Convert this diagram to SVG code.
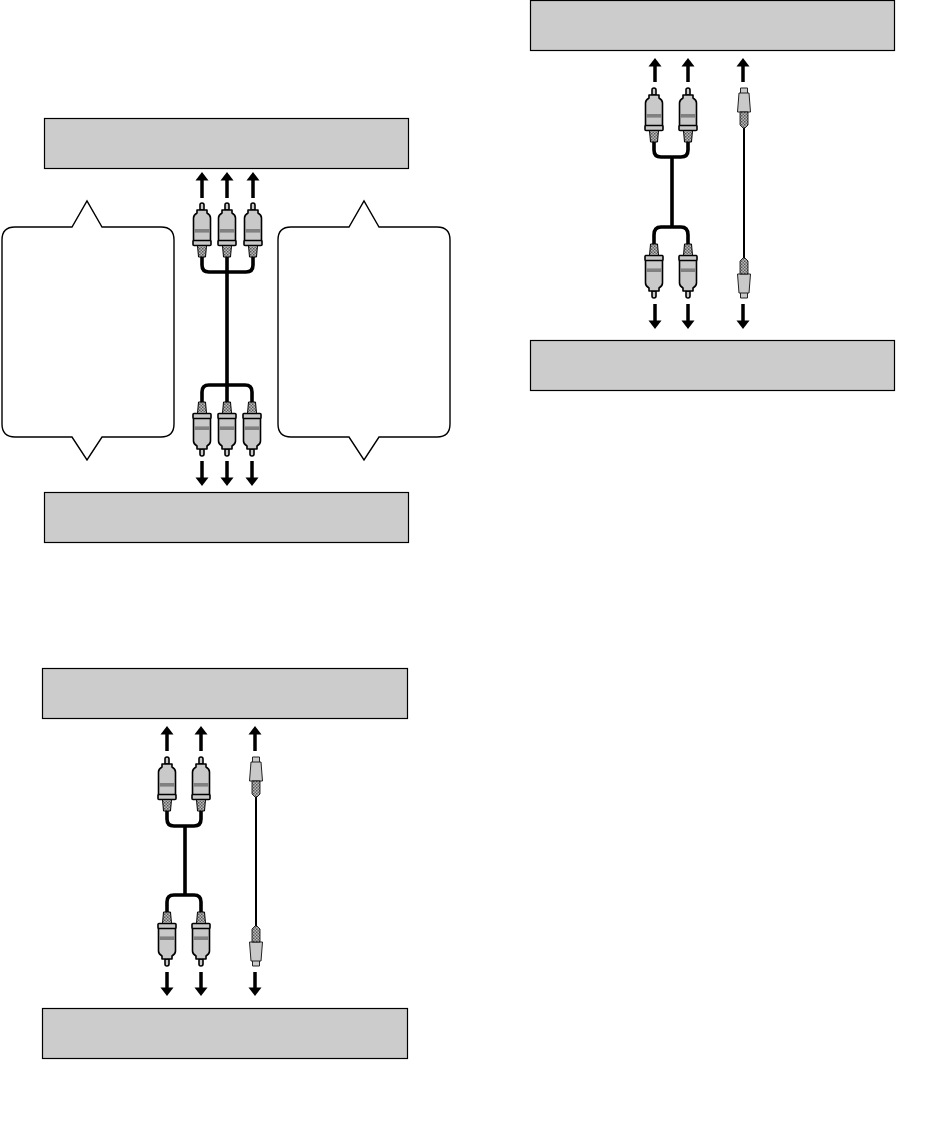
<svg xmlns="http://www.w3.org/2000/svg" width="941" height="1147" viewBox="0 0 941 1147">
<style>
.box{fill:#cccccc;stroke:#000;stroke-width:1.2}
.bubble{fill:#fff;stroke:#000;stroke-width:1.4;stroke-linejoin:miter}
.thick{fill:none;stroke:#000;stroke-width:3.6}
.thin{fill:none;stroke:#000;stroke-width:2}
.arrow{fill:none;stroke:#000;stroke-width:3.5;marker-end:url(#head)}
.g{fill:#c9c9c9;stroke:#000;stroke-width:1.6;stroke-linejoin:round}
.s{fill:#c9c9c9;stroke:#222;stroke-width:1;stroke-linejoin:round}
</style>
<defs>
<marker id="head" markerUnits="userSpaceOnUse" markerWidth="10" markerHeight="14" refX="0.500" refY="7" orient="auto" overflow="visible">
<path d="M0 0.500L8.500 7L0 13.500Z" fill="#000"/>
</marker>
<pattern id="chk" width="3" height="3" patternUnits="userSpaceOnUse"><rect width="3" height="3" fill="#bbb"/><rect width="1.5" height="1.5" fill="#555"/><rect x="1.5" y="1.5" width="1.5" height="1.5" fill="#666"/></pattern>
<g id="rca">
<path class="g" d="M-2 7V2Q-2 0 0 0Q2 0 2 2V7Z"/>
<path class="g" d="M-5 7H5V10Q8.500 12 8.500 15V38H-8.500V15Q-8.500 12 -5 10Z"/>
<rect x="-7.700" y="26" width="15.400" height="3.600" fill="#808080"/>
<rect class="g" x="-9" y="37.500" width="18" height="5" rx="1"/>
<path d="M-4.500 42.500H4.500L3.500 54H-3.500Z" fill="url(#chk)" stroke="#000" stroke-width="1"/>
</g>
<g id="svid">
<rect class="s" x="-3.500" y="0" width="7" height="6"/>
<path class="s" d="M-5 5H5L6.500 24H-6.500Z"/>
<path d="M-4 24H4V37L1 40H-1L-4 37Z" fill="url(#chk)" stroke="#000" stroke-width="0.800"/>
</g>
</defs>
<rect width="941" height="1147" fill="#fff"/>

<g id="connectors">
<path class="thick" d="M202 257V265Q202 272 209 272H246Q253 272 253 265V257M227 257V402M202 402V392Q202 385 209 385H245Q252 385 252 392V402"/>
<path class="arrow" d="M202 198V180"/><path class="arrow" d="M227 198V180"/><path class="arrow" d="M253 198V180"/>
<path class="arrow" d="M202 461V478"/><path class="arrow" d="M227 461V478"/><path class="arrow" d="M252 461V478"/>

<path class="thick" d="M167 811V819Q167 826 174 826H194Q201 826 201 819V811M185 826V895M167 912V902Q167 895 174 895H194Q201 895 201 902V912"/>
<path class="thin" d="M256 796V928"/>
<path class="arrow" d="M167 751V734"/><path class="arrow" d="M201 751V734"/><path class="arrow" d="M255 751V734"/>
<path class="arrow" d="M167 972V988"/><path class="arrow" d="M201 972V988"/><path class="arrow" d="M255 972V988"/>

<path class="thick" d="M654 142V150Q654 157 661 157H681Q688 157 688 150V142M672 157V227M654 245V235Q654 227 661 227H681Q688 227 688 235V245"/>
<path class="thin" d="M744 128V258"/>
<path class="arrow" d="M655 82V66"/><path class="arrow" d="M688 82V66"/><path class="arrow" d="M743 82V66"/>
<path class="arrow" d="M655 304V321"/><path class="arrow" d="M688 304V321"/><path class="arrow" d="M743 304V321"/>
</g>

<g id="box-top-1"><rect class="box" x="44.500" y="118.500" width="364" height="50"/></g>
<g id="box-bottom-1"><rect class="box" x="44.500" y="492.500" width="364" height="50"/></g>
<g id="box-top-2"><rect class="box" x="42.500" y="668.500" width="365" height="50"/></g>
<g id="box-bottom-2"><rect class="box" x="42.500" y="1008.500" width="365" height="50"/></g>
<g id="box-top-3"><rect class="box" x="530.500" y="0.500" width="364" height="50"/></g>
<g id="box-bottom-3"><rect class="box" x="530.500" y="340.500" width="364" height="50"/></g>

<g id="bubble-left"><path class="bubble" d="M15 227H72L87 201L102 227H161Q174 227 174 240V424Q174 437 161 437H102L87 460L72 437H15Q2 437 2 424V240Q2 227 15 227Z"/></g>
<g id="bubble-right"><path class="bubble" d="M291 227H349L364 201L379 227H437Q450 227 450 240V424Q450 437 437 437H379L364 460L349 437H291Q278 437 278 424V240Q278 227 291 227Z"/></g>

<g id="plugs-1">
<use href="#rca" x="202" y="203"/><use href="#rca" x="227" y="203"/><use href="#rca" x="253" y="203"/>
<use href="#rca" transform="translate(202,456) scale(1,-1)"/><use href="#rca" transform="translate(227,456) scale(1,-1)"/><use href="#rca" transform="translate(252,456) scale(1,-1)"/>
</g>
<g id="plugs-2">
<use href="#rca" x="167" y="757"/><use href="#rca" x="201" y="757"/><use href="#svid" x="256" y="757"/>
<use href="#rca" transform="translate(167,966) scale(1,-1)"/><use href="#rca" transform="translate(201,966) scale(1,-1)"/><use href="#svid" transform="translate(256,966) scale(1,-1)"/>
</g>
<g id="plugs-3">
<use href="#rca" x="654" y="88"/><use href="#rca" x="688" y="88"/><use href="#svid" x="744" y="88"/>
<use href="#rca" transform="translate(654,298) scale(1,-1)"/><use href="#rca" transform="translate(688,298) scale(1,-1)"/><use href="#svid" transform="translate(744,298) scale(1,-1)"/>
</g>
</svg>
